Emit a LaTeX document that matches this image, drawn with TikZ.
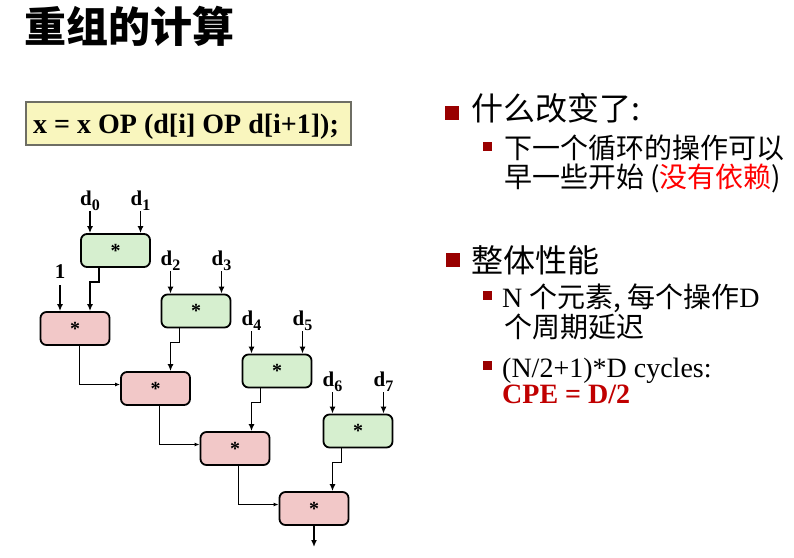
\documentclass[tikz,border=0pt]{standalone}
\usepackage{fontspec}
\setmainfont{Liberation Serif}
\newfontfamily\cjk{Noto Sans CJK SC}
\usetikzlibrary{arrows.meta}

\definecolor{opgreen}{RGB}{214,239,207}
\definecolor{opred}{RGB}{242,200,200}
\definecolor{eqyellow}{RGB}{249,246,190}
\definecolor{eqframe}{RGB}{110,110,100}
\definecolor{bulletred}{RGB}{153,0,0}
\definecolor{cpered}{RGB}{192,0,0}

% operand label: bold d with a lowered index
\newcommand\dsub[1]{d\raisebox{-5pt}{\fontsize{16}{16}\selectfont #1}}

\begin{document}
\begin{tikzpicture}[x=1pt,y=-1pt,
  opbox/.style={draw=black, line width=1.8pt, rounded corners=6pt,
    minimum width=69pt, minimum height=33pt, inner sep=0pt,
    font=\fontsize{20}{20}\selectfont\bfseries},
  mulg/.style={opbox, fill=opgreen},
  mulr/.style={opbox, fill=opred},
  inlabel/.style={anchor=south, inner sep=0pt, font=\fontsize{21}{21}\selectfont\bfseries},
  feed/.style={line width=1.5pt, -{Latex[length=7pt,width=6pt]}},
  chain/.style={line width=1pt, -{Latex[length=5pt,width=4pt]}},
  bigbullet/.style={fill=bulletred, minimum size=14pt, inner sep=0pt},
  smallbullet/.style={fill=bulletred, minimum size=9pt, inner sep=0pt},
  txt/.style={anchor=base west, inner sep=0pt},
  lvlone/.style={txt, font=\cjk\fontsize{32}{32}\selectfont},
  lvltwo/.style={txt, font=\fontsize{28}{28}\selectfont},
]
\useasboundingbox (0,0) rectangle (794,557);

% heading
\node[txt, font=\cjk\bfseries\fontsize{42}{42}\selectfont] (title) at (24,42) {重组的计算};

% statement box
\node[draw=eqframe, fill=eqyellow, line width=1.5pt, minimum width=325pt,
      minimum height=43pt, inner sep=0pt, anchor=north west] (eq) at (25,101) {};
\node[txt, font=\fontsize{28}{28}\selectfont\bfseries] (eqtext) at (33,133)
  {x = x OP (d[i] OP d[i+1]);};

% pairwise products
\node[mulg] (g0) at (115.5,250.5) {*};
\node[mulg] (g1) at (196,311) {*};
\node[mulg] (g2) at (277,371) {*};
\node[mulg] (g3) at (358,431) {*};

% accumulation chain
\node[mulr] (r0) at (75,328.5) {*};
\node[mulr] (r1) at (155.5,388.5) {*};
\node[mulr] (r2) at (235,448.5) {*};
\node[mulr] (r3) at (314,508.5) {*};

% operand labels
\node[inlabel] (d0) at (90,211) {\dsub{0}};
\node[inlabel] (d1) at (140.5,211) {\dsub{1}};
\node[inlabel] (d2) at (170.5,271) {\dsub{2}};
\node[inlabel] (d3) at (221.5,271) {\dsub{3}};
\node[inlabel] (d4) at (251.5,331) {\dsub{4}};
\node[inlabel] (d5) at (302.5,331) {\dsub{5}};
\node[inlabel] (d6) at (332.5,392) {\dsub{6}};
\node[inlabel] (d7) at (383.5,392) {\dsub{7}};
\node[inlabel] (one) at (60,279) {1};

% operand arrows
\foreach \d/\g in {d0/g0,d1/g0,d2/g1,d3/g1,d4/g2,d5/g2,d6/g3,d7/g3}
  \draw[feed] (\d.south) -- (\d.south |- \g.north);
\draw[feed, shorten <=6pt] (one.south) -- (one.south |- r0.north);

% products into the chain
\draw[feed] ([xshift=-16.5pt]g0.south) -- ++(0,14) -| (r0.north -| d0.south);
\draw[feed] ([xshift=-16.5pt]g1.south) -- ++(0,14) -| (r1.north -| d2.south);
\draw[feed] ([xshift=-16.5pt]g2.south) -- ++(0,14) -| (r2.north -| d4.south);
\draw[feed] ([xshift=-16.5pt]g3.south) -- ++(0,14) -| (r3.north -| d6.south);

% chain links
\draw[chain] ([xshift=4pt]r0.south) |- ([yshift=4pt]r1.west);
\draw[chain] ([xshift=3.5pt]r1.south) |- ([yshift=4pt]r2.west);
\draw[chain] ([xshift=3pt]r2.south) |- ([yshift=4pt]r3.west);
\coordinate (out) at (314,547);
\draw[feed] (r3.south) -- (out);

% notes
\node[bigbullet] (b1) at (452,113) {};
\node[lvlone] (n1) at (471,120) {什么改变了:};
\node[smallbullet] (b11) at (487.5,146) {};
\node[lvltwo] (n11) at (504,158.5) {\cjk 下一个循环的操作可以};
\node[lvltwo] (n12) at (504,187.5) {\cjk 早一些开始 (\textcolor{red}{没有依赖})};

\node[bigbullet] (b2) at (452.5,260) {};
\node[lvlone] (n2) at (471,272) {整体性能};
\node[smallbullet] (b21) at (487.5,295) {};
\node[lvltwo] (n21) at (502,307.5) {N {\cjk 个元素, 每个操作}D};
\node[lvltwo] (n22) at (504,337.5) {\cjk 个周期延迟};
\node[smallbullet] (b22) at (487.5,365) {};
\node[lvltwo] (n23) at (502,377) {(N/2+1)*D cycles:};
\node[lvltwo, font=\fontsize{28}{28}\selectfont\bfseries, text=cpered] (n24) at (502,403) {CPE = D/2};
\end{tikzpicture}
\end{document}
